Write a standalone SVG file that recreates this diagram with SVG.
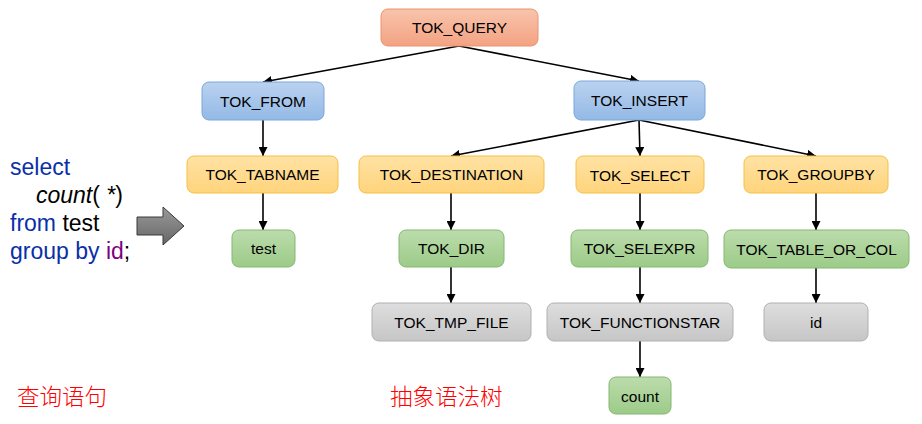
<svg xmlns="http://www.w3.org/2000/svg" width="922" height="424" viewBox="0 0 922 424">
<defs>
<linearGradient id="gO" x1="0" y1="0" x2="0" y2="1"><stop offset="0" stop-color="#f9c4ac"/><stop offset="1" stop-color="#f3a282"/></linearGradient>
<linearGradient id="gB" x1="0" y1="0" x2="0" y2="1"><stop offset="0" stop-color="#bad2f0"/><stop offset="1" stop-color="#93b9e6"/></linearGradient>
<linearGradient id="gY" x1="0" y1="0" x2="0" y2="1"><stop offset="0" stop-color="#ffe2a4"/><stop offset="1" stop-color="#ffd47c"/></linearGradient>
<linearGradient id="gG" x1="0" y1="0" x2="0" y2="1"><stop offset="0" stop-color="#bcdcac"/><stop offset="1" stop-color="#9ccb88"/></linearGradient>
<linearGradient id="gR" x1="0" y1="0" x2="0" y2="1"><stop offset="0" stop-color="#dedede"/><stop offset="1" stop-color="#c6c6c6"/></linearGradient>
<linearGradient id="gA" x1="0" y1="0" x2="0" y2="1"><stop offset="0" stop-color="#9a9a9a"/><stop offset="1" stop-color="#666"/></linearGradient>
<marker id="ah" viewBox="0 0 10 10" refX="10" refY="5" markerWidth="9" markerHeight="9" markerUnits="userSpaceOnUse" orient="auto"><path d="M0,0 L10,5 L0,10 z" fill="#000"/></marker>
</defs>
<style>
.n rect{stroke-width:1}
.o rect{fill:url(#gO);stroke:#eb9370}
.b rect{fill:url(#gB);stroke:#7ba7dc}
.y rect{fill:url(#gY);stroke:#f4c044}
.g rect{fill:url(#gG);stroke:#84b872}
.r rect{fill:url(#gR);stroke:#b0b0b0}
.n text{font-family:"Liberation Sans",Arial,sans-serif;font-size:15.5px;fill:#000;text-anchor:middle}
.e line{stroke:#000;stroke-width:1.6;marker-end:url(#ah)}
.q{font-family:"Liberation Sans",Arial,sans-serif;font-size:23px}
.cn{font-family:"Noto Sans CJK SC",sans-serif;font-size:22.5px;fill:#ff0000;font-weight:300}
</style>
<g id="connectors" class="e">
<line x1="459" y1="46" x2="263" y2="82"/>
<line x1="459" y1="46" x2="639" y2="81"/>
<line x1="263" y1="120" x2="263" y2="156"/>
<line x1="639" y1="120" x2="451" y2="156"/>
<line x1="639" y1="120" x2="640" y2="156"/>
<line x1="639" y1="120" x2="816" y2="156"/>
<line x1="263" y1="193" x2="263" y2="230"/>
<line x1="451" y1="193" x2="451" y2="230"/>
<line x1="640" y1="193" x2="640" y2="230"/>
<line x1="816" y1="193" x2="816" y2="230"/>
<line x1="451" y1="267" x2="451" y2="303"/>
<line x1="640" y1="267" x2="640" y2="303"/>
<line x1="816" y1="267" x2="816" y2="303"/>
<line x1="640" y1="341" x2="640" y2="377"/>
</g>
<g id="TOK_QUERY" class="n o"><rect x="381" y="9" width="157" height="37" rx="7"/><text x="459.5" y="33">TOK_QUERY</text></g>
<g id="TOK_FROM" class="n b"><rect x="202" y="82" width="122" height="38" rx="7"/><text x="263" y="106.5">TOK_FROM</text></g>
<g id="TOK_INSERT" class="n b"><rect x="574" y="81" width="131" height="39" rx="7"/><text x="639.5" y="106">TOK_INSERT</text></g>
<g id="TOK_TABNAME" class="n y"><rect x="187" y="156" width="151" height="37" rx="7"/><text x="262.5" y="180">TOK_TABNAME</text></g>
<g id="TOK_DESTINATION" class="n y"><rect x="359" y="156" width="185" height="37" rx="7"/><text x="451.5" y="180">TOK_DESTINATION</text></g>
<g id="TOK_SELECT" class="n y"><rect x="576" y="156" width="128" height="37" rx="7"/><text x="640" y="180.5">TOK_SELECT</text></g>
<g id="TOK_GROUPBY" class="n y"><rect x="744" y="156" width="144" height="37" rx="7"/><text x="816" y="180">TOK_GROUPBY</text></g>
<g id="test" class="n g"><rect x="232" y="230" width="63" height="37" rx="7"/><text x="263.5" y="254">test</text></g>
<g id="TOK_DIR" class="n g"><rect x="399" y="230" width="105" height="37" rx="7"/><text x="451.5" y="254">TOK_DIR</text></g>
<g id="TOK_SELEXPR" class="n g"><rect x="571" y="230" width="137" height="37" rx="7"/><text x="639.5" y="254">TOK_SELEXPR</text></g>
<g id="TOK_TABLE_OR_COL" class="n g"><rect x="724" y="230" width="185" height="38" rx="7"/><text x="816.5" y="254.5">TOK_TABLE_OR_COL</text></g>
<g id="TOK_TMP_FILE" class="n r"><rect x="372" y="303" width="159" height="38" rx="7"/><text x="451.5" y="327.5">TOK_TMP_FILE</text></g>
<g id="TOK_FUNCTIONSTAR" class="n r"><rect x="547" y="303" width="186" height="38" rx="7"/><text x="640" y="327.5">TOK_FUNCTIONSTAR</text></g>
<g id="id" class="n r"><rect x="764" y="303" width="104" height="38" rx="7"/><text x="816" y="327.5">id</text></g>
<g id="count" class="n g"><rect x="609" y="377" width="62" height="37" rx="7"/><text x="640" y="401.5">count</text></g>
<g id="query">
<text class="q" x="10" y="175" fill="#0a2fa8">select</text>
<text class="q" x="36" y="203"><tspan font-style="italic" fill="#000">count</tspan><tspan fill="#000">( </tspan><tspan font-style="italic" fill="#000">*</tspan><tspan fill="#000">)</tspan></text>
<text class="q" x="10" y="231"><tspan fill="#0a2fa8">from</tspan><tspan fill="#000"> test</tspan></text>
<text class="q" x="10" y="259"><tspan fill="#0a2fa8">group by </tspan><tspan fill="#800080">id</tspan><tspan fill="#000">;</tspan></text>
</g>
<path id="bigarrow" d="M137,217 L163,217 L163,207 L184,226 L163,245 L163,235 L137,235 Z" fill="url(#gA)" stroke="#3a3a3a" stroke-width="1"/>
<text class="cn" x="17" y="405">查询语句</text>
<text class="cn" x="390" y="405">抽象语法树</text>
</svg>
